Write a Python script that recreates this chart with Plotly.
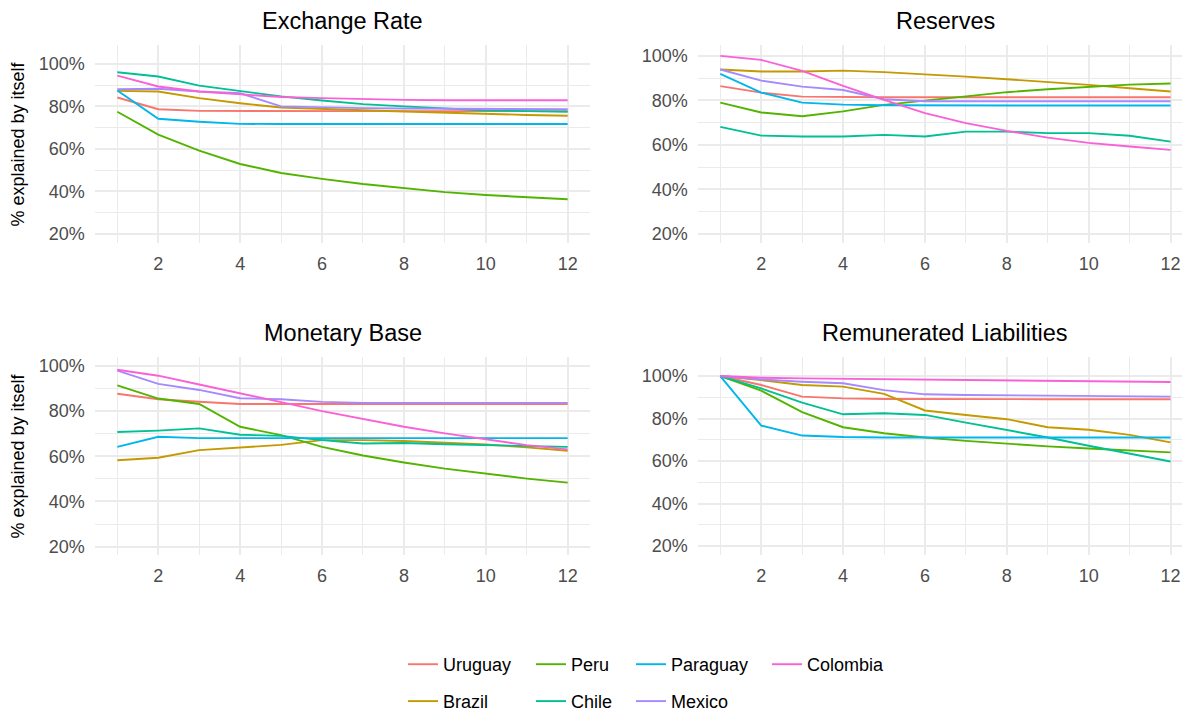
import plotly.graph_objects as go

x_steps = list(range(1, 13))
countries = ["Uruguay", "Brazil", "Peru", "Chile", "Paraguay", "Mexico", "Colombia"]
colors = ["#F8766D", "#C49A00", "#53B400", "#00C094", "#00B6EB", "#A58AFF", "#FB61D7"]
panel_titles = ["Exchange Rate", "Reserves", "Monetary Base", "Remunerated Liabilities"]

# % explained by itself, horizons 1..12
exchange_rate = {
    "Uruguay":  [84.2, 78.7, 77.9, 77.8, 77.8, 77.8, 77.8, 77.8, 77.8, 77.8, 77.8, 77.8],
    "Brazil":   [87.3, 87.0, 83.9, 81.5, 79.5, 78.7, 78.2, 77.6, 77.0, 76.5, 76.0, 75.6],
    "Peru":     [77.5, 66.7, 59.2, 52.9, 48.7, 45.9, 43.5, 41.5, 39.7, 38.3, 37.2, 36.3],
    "Chile":    [96.1, 94.1, 89.8, 87.3, 84.7, 82.8, 81.1, 80.0, 78.9, 78.1, 77.8, 77.5],
    "Paraguay": [87.5, 74.2, 72.8, 71.8, 71.7, 71.7, 71.7, 71.7, 71.7, 71.7, 71.7, 71.7],
    "Mexico":   [88.1, 88.3, 87.0, 86.2, 80.0, 79.5, 79.2, 79.0, 78.9, 78.7, 78.7, 78.7],
    "Colombia": [94.5, 89.4, 87.0, 85.8, 84.4, 83.9, 83.4, 83.1, 82.9, 82.9, 82.9, 82.9],
}
reserves = {
    "Uruguay":  [86.4, 83.5, 81.7, 81.4, 81.4, 81.4, 81.4, 81.4, 81.4, 81.4, 81.4, 81.4],
    "Brazil":   [93.9, 93.0, 93.0, 93.4, 92.7, 91.8, 90.7, 89.5, 88.3, 87.0, 85.5, 84.0],
    "Peru":     [79.0, 74.6, 72.9, 75.1, 78.0, 79.8, 81.7, 83.7, 85.0, 86.2, 87.1, 87.6],
    "Chile":    [68.1, 64.2, 63.8, 63.8, 64.5, 63.8, 66.0, 66.0, 65.3, 65.3, 64.1, 61.5],
    "Paraguay": [91.9, 83.5, 79.0, 78.1, 77.8, 77.7, 77.7, 77.7, 77.7, 77.7, 77.7, 77.7],
    "Mexico":   [93.9, 88.9, 86.2, 84.7, 80.5, 79.6, 79.6, 79.6, 79.6, 79.6, 79.6, 79.6],
    "Colombia": [100.0, 98.2, 93.3, 86.5, 80.2, 74.3, 69.8, 66.3, 63.3, 60.9, 59.3, 57.8],
}
monetary_base = {
    "Uruguay":  [87.6, 85.2, 84.1, 83.1, 83.1, 83.1, 83.1, 83.1, 83.1, 83.1, 83.1, 83.1],
    "Brazil":   [58.2, 59.3, 62.7, 63.7, 65.0, 67.1, 67.1, 66.7, 65.9, 65.2, 63.9, 62.4],
    "Peru":     [91.3, 85.5, 83.1, 73.0, 69.3, 64.1, 60.3, 57.2, 54.5, 52.3, 50.1, 48.3],
    "Chile":    [70.7, 71.3, 72.3, 69.5, 69.0, 67.1, 65.6, 65.8, 65.3, 64.9, 64.7, 64.1],
    "Paraguay": [64.1, 68.6, 68.0, 68.0, 68.0, 68.0, 68.0, 68.0, 68.0, 68.0, 68.0, 68.0],
    "Mexico":   [97.8, 92.0, 89.3, 85.6, 85.2, 84.0, 83.6, 83.6, 83.6, 83.6, 83.6, 83.6],
    "Colombia": [98.2, 95.6, 91.7, 87.9, 83.9, 79.9, 76.3, 73.0, 70.1, 67.4, 64.9, 63.0],
}
remunerated_liabilities = {
    "Uruguay":  [100.0, 95.8, 90.3, 89.5, 89.2, 89.1, 89.1, 89.1, 89.1, 89.1, 89.1, 89.1],
    "Brazil":   [100.0, 98.1, 95.8, 95.0, 91.6, 83.8, 81.7, 79.7, 75.9, 74.7, 72.3, 68.8],
    "Peru":     [100.0, 93.1, 83.0, 75.9, 73.1, 71.1, 69.5, 68.1, 66.9, 65.9, 65.0, 64.1],
    "Chile":    [100.0, 94.2, 87.5, 82.0, 82.5, 81.7, 78.1, 74.7, 71.1, 67.2, 63.4, 59.8],
    "Paraguay": [100.0, 76.7, 72.0, 71.3, 71.1, 71.1, 71.1, 71.1, 71.1, 71.1, 71.1, 71.1],
    "Mexico":   [100.0, 98.4, 97.3, 96.6, 93.4, 91.4, 91.1, 90.9, 90.8, 90.6, 90.5, 90.3],
    "Colombia": [100.0, 99.2, 98.9, 98.75, 98.6, 98.4, 98.1, 98.0, 97.8, 97.5, 97.4, 97.2],
}
panels_data = [exchange_rate, reserves, monetary_base, remunerated_liabilities]
y_ticks = [20, 40, 60, 80, 100]
y_tick_labels = ["20%", "40%", "60%", "80%", "100%"]
y_ranges = [[15.6, 108.9], [15.8, 104.9], [16.3, 104.0], [15.8, 109.1]]

W, H = 1182, 711
def px_x(v): return v / W
def px_y(v): return 1 - v / H

x_domains = [[94.8 / W, 590.2 / W], [697.8 / W, 1.0], [94.8 / W, 590.2 / W], [697.8 / W, 1.0]]
y_domains = [[px_y(243.3), px_y(45)], [px_y(243.3), px_y(45)],
             [px_y(555), px_y(356.7)], [px_y(555), px_y(356.7)]]
x_ranges = [[0.45, 12.55], [0.45, 12.28], [0.45, 12.55], [0.45, 12.28]]

legend_of = {"Uruguay": "legend", "Brazil": "legend",
             "Peru": "legend2", "Chile": "legend2",
             "Paraguay": "legend3", "Mexico": "legend3",
             "Colombia": "legend4"}

fig = go.Figure()
for p, data in enumerate(panels_data):
    suffix = "" if p == 0 else str(p + 1)
    for c, col in zip(countries, colors):
        fig.add_trace(go.Scatter(
            x=x_steps, y=data[c], mode="lines", name=c,
            line=dict(color=col, width=1.9),
            xaxis="x" + suffix, yaxis="y" + suffix,
            legendgroup=c, showlegend=(p == 0), legend=legend_of[c],
        ))

grid = "#EBEBEB"
FONT = "Liberation Sans, Arial, sans-serif"
tickfont = dict(family=FONT, size=18, color="#4D4D4D")
layout = dict(
    width=W, height=H,
    paper_bgcolor="white", plot_bgcolor="white",
    margin=dict(l=0, r=0, t=0, b=0, autoexpand=False),
    font=dict(family=FONT, color="black"),
)
for p in range(4):
    suffix = "" if p == 0 else str(p + 1)
    layout["xaxis" + suffix] = dict(
        domain=x_domains[p], range=x_ranges[p], anchor="y" + suffix,
        tickmode="linear", tick0=0, dtick=2, showgrid=True, gridcolor=grid, gridwidth=1.9,
        minor=dict(showgrid=True, gridcolor=grid, gridwidth=1.0, tickmode="linear", tick0=0, dtick=1),
        zeroline=False, showline=False, ticks="", tickfont=tickfont, ticklabelstandoff=8,
    )
    layout["yaxis" + suffix] = dict(
        domain=y_domains[p], range=y_ranges[p], anchor="x" + suffix,
        tickmode="array", tickvals=y_ticks, ticktext=y_tick_labels,
        showgrid=True, gridcolor=grid, gridwidth=1.9,
        minor=dict(showgrid=True, gridcolor=grid, gridwidth=1.0, tickmode="linear", tick0=0, dtick=10),
        zeroline=False, showline=False, ticks="", tickfont=tickfont, ticklabelstandoff=9,
    )

legend_common = dict(orientation="v", xanchor="left", yanchor="top",
                     font=dict(family=FONT, size=18, color="black"),
                     bgcolor="rgba(0,0,0,0)", tracegroupgap=10.5, borderwidth=0)
# x positions of the legend labels' left edges
for name, tx in zip(["legend", "legend2", "legend3", "legend4"], [445, 573, 673, 809]):
    layout[name] = dict(legend_common, x=px_x(tx - 42), y=px_y(646))

fig.update_layout(**layout)

# panel titles
centers = [342.5, 945.4, 342.5, 945.4]
title_y = [21, 21, 333, 333]
for t, cx, cy in zip(panel_titles, centers, title_y):
    fig.add_annotation(text=t, x=px_x(cx), y=px_y(cy), xref="paper", yref="paper",
                       xanchor="center", yanchor="middle", showarrow=False,
                       font=dict(size=23.5, color="black", family=FONT))
# y-axis titles
for cy in [144, 456]:
    fig.add_annotation(text="% explained by itself", x=px_x(17.5), y=px_y(cy), xref="paper", yref="paper",
                       xanchor="center", yanchor="middle", textangle=-90, showarrow=False,
                       font=dict(size=18, color="black", family=FONT))

fig.write_html("out.html", config={"displayModeBar": False},
               post_script="document.body.style.margin='0';")
